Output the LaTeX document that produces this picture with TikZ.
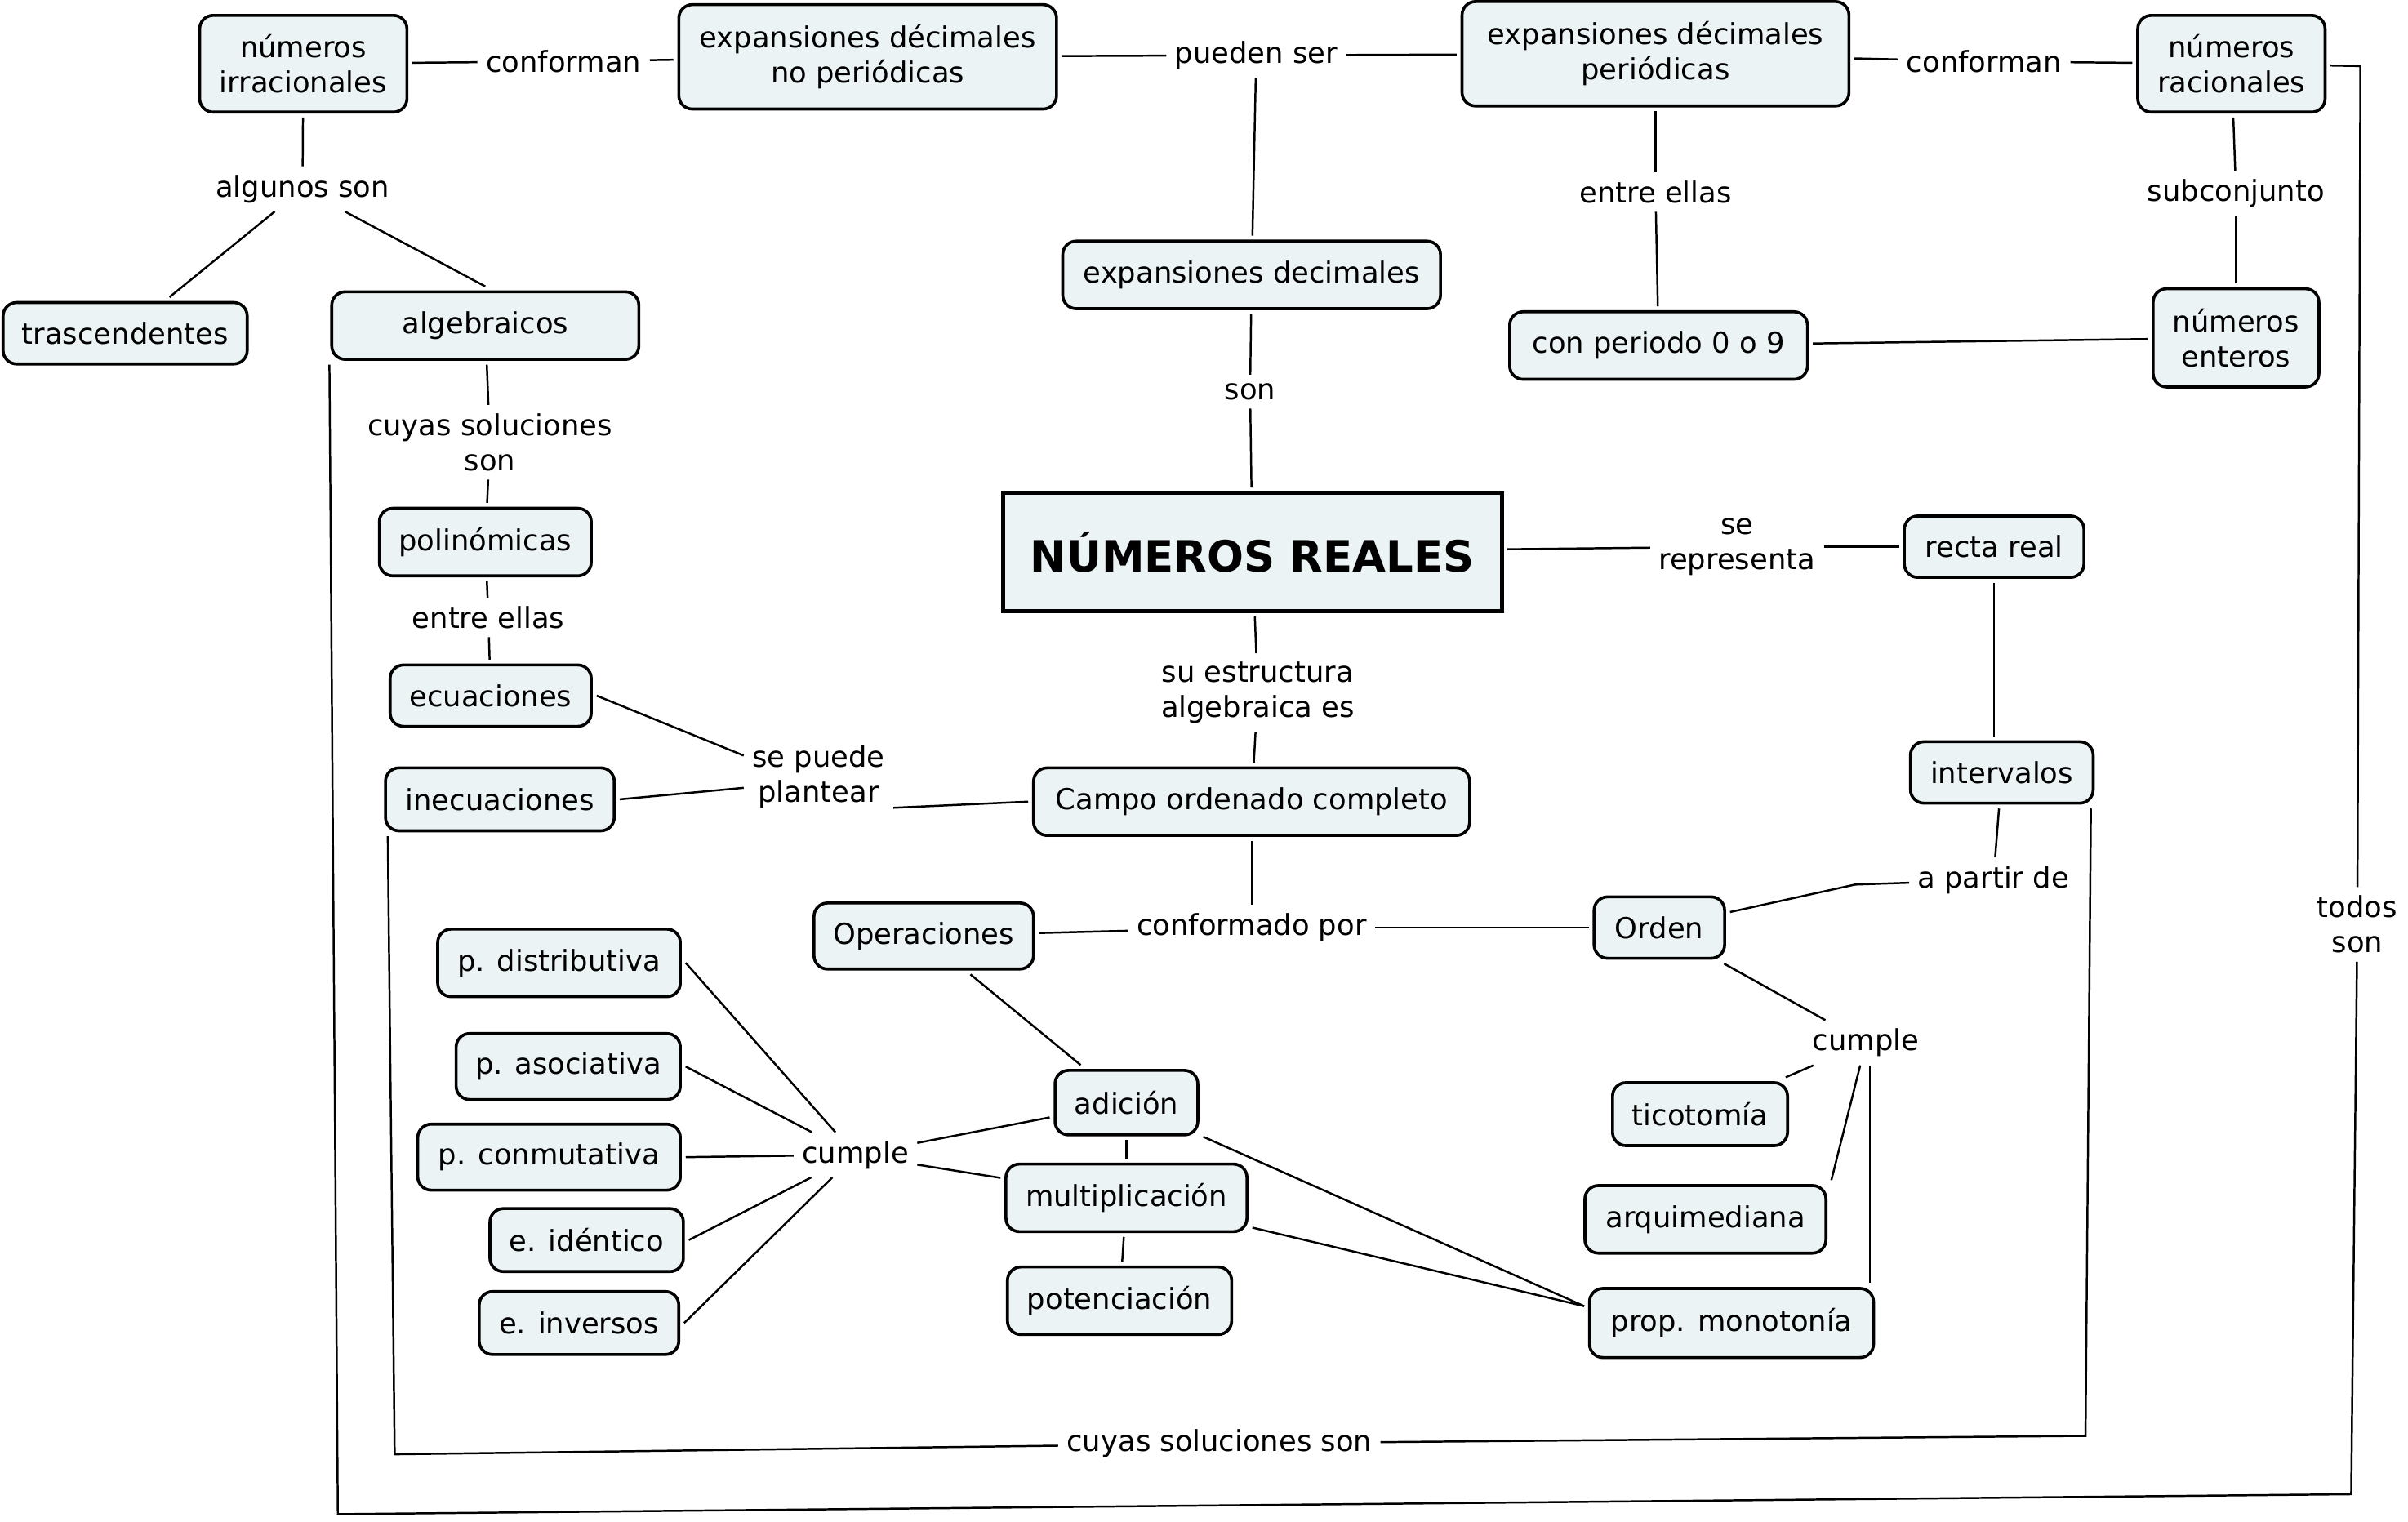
\documentclass[tikz,border=0pt]{standalone}
\usepackage{fontspec}
\setmainfont{DejaVu Sans}
\usepackage{tikz}
\usetikzlibrary{calc}
\definecolor{cmapfill}{RGB}{235, 243, 245}
\definecolor{cmapline}{RGB}{0, 0, 0}

\begin{document}
\begin{tikzpicture}[
    x=0.02cm, y=-0.02cm,
    every node/.style={font=\fontsize{10.7}{13}\selectfont, align=center},
    concept/.style={rectangle, draw=cmapline, fill=cmapfill, rounded corners=5pt, line width=1.1pt, inner sep=0pt, outer sep=2pt},
    mainconcept/.style={rectangle, draw=cmapline, fill=cmapfill, line width=1.4pt, inner sep=0pt, outer sep=2pt, font=\fontsize{16}{19}\selectfont\bfseries},
    phrase/.style={inner sep=3pt},
    link/.style={line width=0.75pt, draw=cmapline}
]
    \useasboundingbox (0,0) rectangle (1568,991);

    % concepts
    \node[concept, minimum width=2.70cm, minimum height=1.26cm] (irr) at (197.5,41.5) {números\\irracionales};
    \node[concept, minimum width=4.92cm, minimum height=1.36cm] (noper) at (565,37) {expansiones décimales\\no periódicas};
    \node[concept, minimum width=5.04cm, minimum height=1.36cm] (per) at (1078,35) {expansiones décimales\\periódicas};
    \node[concept, minimum width=2.44cm, minimum height=1.26cm] (rac) at (1453,41.5) {números\\racionales};
    \node[concept, minimum width=3.18cm, minimum height=0.80cm] (tras) at (81.5,217) {trascendentes};
    \node[concept, minimum width=4.00cm, minimum height=0.88cm] (alg) at (316,212) {algebraicos};
    \node[concept, minimum width=4.92cm, minimum height=0.88cm] (expdec) at (815,179) {expansiones decimales};
    \node[concept, minimum width=3.88cm, minimum height=0.88cm] (per09) at (1080,225) {con periodo 0 o 9};
    \node[concept, minimum width=2.16cm, minimum height=1.28cm] (ent) at (1456,220) {números\\enteros};
    \node[mainconcept, minimum width=6.50cm, minimum height=1.54cm] (reales) at (815.5,359.5) {NÚMEROS REALES};
    \node[concept, minimum width=2.34cm, minimum height=0.80cm] (recta) at (1298.5,356) {recta real};
    \node[concept, minimum width=2.76cm, minimum height=0.88cm] (polin) at (316,353) {polinómicas};
    \node[concept, minimum width=2.62cm, minimum height=0.80cm] (ecu) at (319.5,453) {ecuaciones};
    \node[concept, minimum width=2.98cm, minimum height=0.82cm] (inecu) at (325.5,520.5) {inecuaciones};
    \node[concept, minimum width=5.68cm, minimum height=0.88cm] (campo) at (815,522) {Campo ordenado completo};
    \node[concept, minimum width=2.38cm, minimum height=0.80cm] (interv) at (1303.5,503) {intervalos};
    \node[concept, minimum width=2.86cm, minimum height=0.86cm] (oper) at (601.5,609.5) {Operaciones};
    \node[concept, minimum width=1.70cm, minimum height=0.80cm] (orden) at (1080.5,604) {Orden};
    \node[concept, minimum width=3.16cm, minimum height=0.88cm] (pdist) at (364,627) {p. distributiva};
    \node[concept, minimum width=2.92cm, minimum height=0.86cm] (pasoc) at (370,694.5) {p. asociativa};
    \node[concept, minimum width=3.42cm, minimum height=0.86cm] (pconm) at (357.5,753.5) {p. conmutativa};
    \node[concept, minimum width=2.52cm, minimum height=0.82cm] (eiden) at (382,807.5) {e. idéntico};
    \node[concept, minimum width=2.60cm, minimum height=0.82cm] (einv) at (377,861.5) {e. inversos};
    \node[concept, minimum width=1.86cm, minimum height=0.84cm] (adic) at (733.5,718) {adición};
    \node[concept, minimum width=3.14cm, minimum height=0.88cm] (mult) at (733.5,780) {multiplicación};
    \node[concept, minimum width=2.92cm, minimum height=0.88cm] (poten) at (729,847) {potenciación};
    \node[concept, minimum width=2.28cm, minimum height=0.82cm] (tico) at (1107,725.5) {ticotomía};
    \node[concept, minimum width=3.14cm, minimum height=0.88cm] (arqui) at (1110.5,794) {arquimediana};
    \node[concept, minimum width=3.70cm, minimum height=0.90cm] (monot) at (1127.5,861.5) {prop. monotonía};

    % linking phrases
    \node[phrase] (conf1) at (367,40) {conforman};
    \node[phrase] (pueden) at (818,36) {pueden ser};
    \node[phrase] (conf2) at (1292,40) {conforman};
    \node[phrase] (algunos) at (197,123) {algunos son};
    \node[phrase] (entre1) at (1078,125) {entre ellas};
    \node[phrase] (subconj) at (1456,126) {subconjunto};
    \node[phrase] (son) at (814,255) {son};
    \node[phrase] (cuyas1) at (319,288) {cuyas soluciones\\son};
    \node[phrase] (serep) at (1131,356) {se\\representa};
    \node[phrase] (entre2) at (318,402) {entre ellas};
    \node[phrase] (suestr) at (819,451) {su estructura\\algebraica es};
    \node[phrase] (sepuede) at (533,506) {se puede\\plantear};
    \node[phrase] (apartir) at (1298,573) {a partir de};
    \node[phrase] (conformado) at (815,604) {conformado por};
    \node[phrase] (todos) at (1535,602) {todos\\son};
    \node[phrase] (cumple1) at (1215,679) {cumple};
    \node[phrase] (cumple2) at (557,752) {cumple};
    \node[phrase] (cuyas2) at (794,940) {cuyas soluciones son};

    % bends of the long connectors
    \coordinate (bendA) at (1208,576);
    \coordinate (bendB) at (257,947);
    \coordinate (bendC) at (1358,935);
    \coordinate (bendD) at (220,986);
    \coordinate (bendE) at (1531,973);
    \coordinate (bendF) at (1537,43);
    \coordinate (monotTop) at ($(monot.north east)+(-6,0)$);

    % top
    \draw[link] (irr) -- (conf1);
    \draw[link] (conf1) -- (noper);
    \draw[link] (noper) -- (pueden);
    \draw[link] (pueden) -- (per);
    \draw[link] (pueden) -- (expdec);
    \draw[link] (per) -- (conf2);
    \draw[link] (conf2) -- (rac);
    \draw[link] (irr) -- (algunos);
    \draw[link] (algunos) -- (tras);
    \draw[link] (algunos) -- (alg.north);
    \draw[link] (per) -- (entre1);
    \draw[link] (entre1) -- (per09);
    \draw[link] (rac) -- (subconj);
    \draw[link] (subconj) -- (ent);
    \draw[link] (per09) -- (ent);
    \draw[link] (expdec) -- (son);
    \draw[link] (son) -- (reales);

    % middle
    \draw[link] (reales) -- (serep);
    \draw[link] (serep) -- (recta);
    \draw[link] (recta.south) -- (recta.south |- interv.north);
    \draw[link] (alg) -- (cuyas1);
    \draw[link] (cuyas1) -- (polin);
    \draw[link] (polin) -- (entre2);
    \draw[link] (entre2) -- (ecu);
    \draw[link] (ecu.east) -- ($(sepuede.west)+(0,-14)$);
    \draw[link] (inecu.east) -- ($(sepuede.west)+(0,7)$);
    \draw[link] ($(sepuede.east)+(0,20)$) -- (campo.west);
    \draw[link] (reales) -- (suestr);
    \draw[link] (suestr) -- (campo);
    \draw[link] (campo) -- (conformado);
    \draw[link] (conformado) -- (oper);
    \draw[link] (conformado) -- (orden);
    \draw[link] (interv) -- (apartir);
    \draw[link] (apartir) -- (bendA) -- (orden);

    % bottom
    \draw[link] (orden) -- (cumple1);
    \draw[link] (cumple1) -- (tico);
    \draw[link] (cumple1) -- (arqui.north east);
    \draw[link] (cumple1.south -| monotTop) -- (monotTop);
    \draw[link] (oper) -- (adic);
    \draw[link] (adic) -- (cumple2);
    \draw[link] (mult) -- (cumple2);
    \draw[link] (cumple2) -- (pdist.east);
    \draw[link] (cumple2) -- (pasoc.east);
    \draw[link] (cumple2) -- (pconm.east);
    \draw[link] (cumple2) -- (eiden.east);
    \draw[link] (cumple2) -- (einv.east);
    \draw[link] (adic) -- (mult);
    \draw[link] (mult) -- (poten);
    \draw[link] (adic) -- ($(monot.west)+(0,-11)$);
    \draw[link] (mult) -- ($(monot.west)+(0,-11)$);

    % long connectors round the map
    \draw[link] ($(inecu.south west)+(5,0)$) -- (bendB) -- (cuyas2);
    \draw[link] (cuyas2) -- (bendC) -- ($(interv.south east)+(-5,0)$);
    \draw[link] ($(alg.south west)+(2,0)$) -- (bendD) -- (bendE) -- (todos);
    \draw[link] (todos) -- (bendF) -- (rac);
\end{tikzpicture}
\end{document}
